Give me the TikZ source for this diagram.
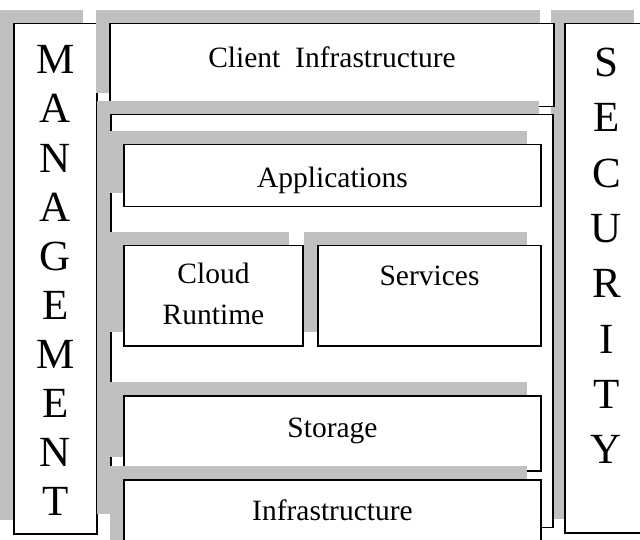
\documentclass[tikz,border=0pt]{standalone}
\usepackage{fontspec}
\setmainfont{Liberation Serif}
\usetikzlibrary{shadows}
\definecolor{ink}{HTML}{000000}
\definecolor{schatten}{HTML}{BFBFBF}
\newcommand{\boxfont}{\fontsize{29.5}{41}\selectfont}
\newcommand{\mgmtfont}{\fontsize{43}{49.1}\selectfont}
\newcommand{\secfont}{\fontsize{43}{55.3}\selectfont}
\tikzset{kasten/.style={draw=ink,fill=white,line width=1.5pt,inner sep=0,anchor=north,
    general shadow={fill=schatten,shadow xshift=-14pt,shadow yshift=14pt}},
  schild/.style={kasten,font=\boxfont,align=center},
  saeule/.style={kasten,align=center,minimum width=83pt}}

\begin{document}
\begin{tikzpicture}[x=1pt,y=-1pt]
\useasboundingbox (0,0) rectangle (640,540);
% side columns
\node[saeule,font=\mgmtfont,text height=492pt,text depth=18pt] (mgmt) at (55.5,23)
  {M\\A\\N\\A\\G\\E\\M\\E\\N\\T};
\node[saeule,font=\secfont,text height=440pt,text depth=69pt] (sec) at (606.5,23)
  {S\\E\\C\\U\\R\\I\\T\\Y};
% top
\node[schild,minimum width=444pt,text height=44pt,text depth=39pt] (client) at (332,23)
  {Client~~Infrastructure};
% cloud frame
\node[kasten,line width=1.2pt,minimum width=442pt,minimum height=413pt] (rahmen) at (332,114) {};
\node[schild,minimum width=417pt,text height=43pt,text depth=19pt] (apps) at (332.5,144)
  {Applications};
\node[schild,minimum width=179pt,text height=79pt,text depth=21pt] (runtime) at (213.5,245)
  {Cloud\\Runtime};
\node[schild,minimum width=223pt,text height=40pt,text depth=60pt] (services) at (429.5,245)
  {Services};
\node[schild,minimum width=417pt,text height=42pt,text depth=33pt] (storage) at (332.5,395)
  {Storage};
\node[schild,minimum width=417pt,text height=41pt,text depth=49pt] (infra) at (332.5,479)
  {Infrastructure};
\end{tikzpicture}
\end{document}
